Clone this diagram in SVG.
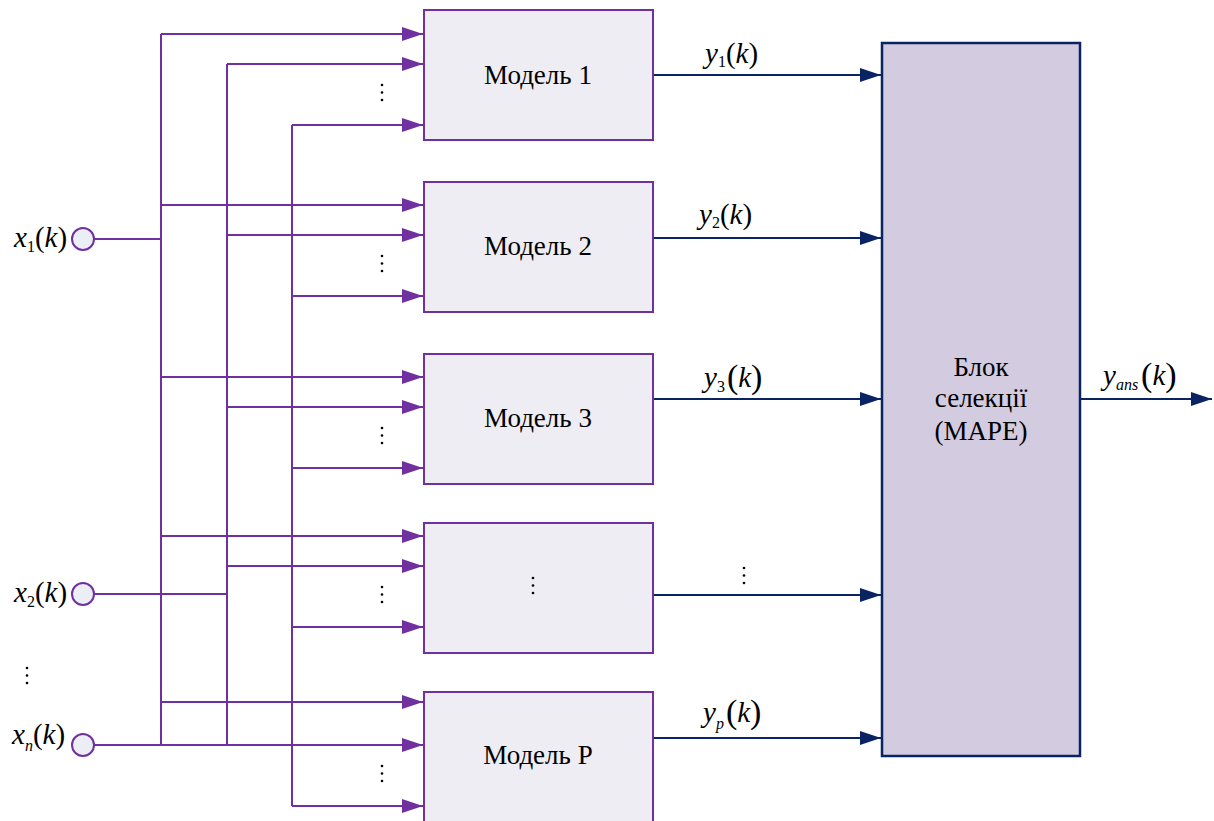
<svg xmlns="http://www.w3.org/2000/svg" xmlns:xlink="http://www.w3.org/1999/xlink" width="1214" height="821" viewBox="0 0 1214 821" font-family="'Liberation Serif', 'Times New Roman', serif">
  <style>
    .model { fill: #efedf4; stroke: #7030a0; stroke-width: 2; }
    .sel { fill: #d3cbe0; stroke: #0a2463; stroke-width: 2.5; }
    .in { fill: #eceef6; stroke: #7030a0; stroke-width: 2; }
    .wire { fill: none; stroke: #7030a0; stroke-width: 2; }
    .warr { fill: none; stroke: #7030a0; stroke-width: 2; marker-end: url(#pa); }
    .out { fill: none; stroke: #0a2463; stroke-width: 2; marker-end: url(#na); }
    text { font-family: 'Liberation Serif', serif; fill: #000; }
    .lbl { font-size: 27px; text-anchor: middle; }
    .math { font-size: 29px; font-style: italic; }
    .sub { font-size: 16px; }
    .num { font-size: 16px; font-style: normal; }
    .up { font-style: normal; }
    .big { font-style: normal; font-size: 34px; }
  </style>
  <defs>
    <marker id="pa" markerUnits="userSpaceOnUse" markerWidth="22" markerHeight="16" refX="21" refY="7" orient="auto">
      <path d="M0,0 L21,7 L0,14 Z" fill="#7030a0"/>
    </marker>
    <marker id="na" markerUnits="userSpaceOnUse" markerWidth="22" markerHeight="16" refX="21" refY="7" orient="auto">
      <path d="M0,0 L21,7 L0,14 Z" fill="#0a2463"/>
    </marker>
    <g id="vdots" fill="#000">
      <circle cx="0" cy="0" r="1.3"/>
      <circle cx="0" cy="7.5" r="1.3"/>
      <circle cx="0" cy="15" r="1.3"/>
    </g>
  </defs>

  <!-- connectors -->
  <g id="connectors">
    <!-- input feeds -->
    <path class="wire" d="M94,239 H161"/>
    <path class="wire" d="M94,594 H227"/>
    <!-- vertical buses -->
    <path class="wire" d="M161,34 V745"/>
    <path class="wire" d="M227,64 V745"/>
    <path class="wire" d="M292,125 V806"/>
    <!-- feeds into models -->
    <path class="warr" d="M161,34 H423"/>
    <path class="warr" d="M227,64 H423"/>
    <path class="warr" d="M292,125 H423"/>
    <path class="warr" d="M161,205 H423"/>
    <path class="warr" d="M227,235 H423"/>
    <path class="warr" d="M292,296 H423"/>
    <path class="warr" d="M161,377 H423"/>
    <path class="warr" d="M227,407 H423"/>
    <path class="warr" d="M292,468 H423"/>
    <path class="warr" d="M161,536 H423"/>
    <path class="warr" d="M227,566 H423"/>
    <path class="warr" d="M292,627 H423"/>
    <path class="warr" d="M161,702 H423"/>
    <path class="warr" d="M94,745 H423"/>
    <path class="warr" d="M292,806 H423"/>
    <!-- model outputs -->
    <path class="out" d="M654,75 H881"/>
    <path class="out" d="M654,238 H881"/>
    <path class="out" d="M654,399 H881"/>
    <path class="out" d="M654,595 H881"/>
    <path class="out" d="M654,738 H881"/>
    <path class="out" d="M1081,399 H1212"/>
    <!-- elision dots -->
    <use xlink:href="#vdots" x="382" y="85"/>
    <use xlink:href="#vdots" x="382" y="256"/>
    <use xlink:href="#vdots" x="382" y="428"/>
    <use xlink:href="#vdots" x="382" y="587"/>
    <use xlink:href="#vdots" x="382" y="766"/>
    <use xlink:href="#vdots" x="27" y="668"/>
    <use xlink:href="#vdots" x="744" y="568"/>
  </g>

  <!-- inputs -->
  <g id="input-x1">
    <circle class="in" cx="83" cy="239" r="11"/>
    <text class="math" x="14" y="247">x<tspan class="num" dy="5">1</tspan><tspan class="up" dy="-5">(</tspan>k<tspan class="up">)</tspan></text>
  </g>
  <g id="input-x2">
    <circle class="in" cx="83" cy="594" r="11"/>
    <text class="math" x="14" y="602">x<tspan class="num" dy="5">2</tspan><tspan class="up" dy="-5">(</tspan>k<tspan class="up">)</tspan></text>
  </g>
  <g id="input-xn">
    <circle class="in" cx="83" cy="745" r="11"/>
    <text class="math" x="12" y="744">x<tspan class="sub" dy="7">n</tspan><tspan class="up" dy="-7">(</tspan>k<tspan class="up">)</tspan></text>
  </g>

  <!-- models -->
  <g id="model-1">
    <rect class="model" x="424" y="10" width="229" height="130"/>
    <text class="lbl" x="538" y="84">Модель 1</text>
  </g>
  <g id="model-2">
    <rect class="model" x="424" y="182" width="229" height="130"/>
    <text class="lbl" x="538" y="255">Модель 2</text>
  </g>
  <g id="model-3">
    <rect class="model" x="424" y="354" width="229" height="130"/>
    <text class="lbl" x="538" y="427">Модель 3</text>
  </g>
  <g id="model-dots">
    <rect class="model" x="424" y="523" width="229" height="130"/>
    <use xlink:href="#vdots" x="533" y="578"/>
  </g>
  <g id="model-p">
    <rect class="model" x="424" y="692" width="229" height="140"/>
    <text class="lbl" x="538" y="764">Модель P</text>
  </g>

  <!-- output labels -->
  <g id="labels">
    <text class="math" x="705" y="63">y<tspan class="num" dy="4">1</tspan><tspan class="up" dy="-4">(</tspan>k<tspan class="up">)</tspan></text>
    <text class="math" x="699" y="224">y<tspan class="num" dy="4">2</tspan><tspan class="up" dy="-4">(</tspan>k<tspan class="up">)</tspan></text>
    <text class="math" x="704" y="387">y<tspan class="num" dy="5">3</tspan><tspan class="big" dy="-4" dx="2">(</tspan><tspan dy="-1">k</tspan><tspan class="big" dy="1">)</tspan></text>
    <text class="math" x="703" y="722">y<tspan class="sub" dy="7">p</tspan><tspan class="big" dy="-6" dx="2">(</tspan><tspan dy="-1">k</tspan><tspan class="big" dy="1">)</tspan></text>
    <text class="math" x="1103" y="385">y<tspan class="sub" dy="5">ans</tspan><tspan class="big" dy="-4" dx="3">(</tspan><tspan dy="-1">k</tspan><tspan class="big" dy="1">)</tspan></text>
  </g>

  <!-- selection block -->
  <g id="selection">
    <rect class="sel" x="882" y="43" width="198" height="713"/>
    <text class="lbl" x="981" y="376">Блок</text>
    <text class="lbl" x="981" y="407">селекції</text>
    <text class="lbl" x="981" y="440">(MAPE)</text>
  </g>
</svg>
